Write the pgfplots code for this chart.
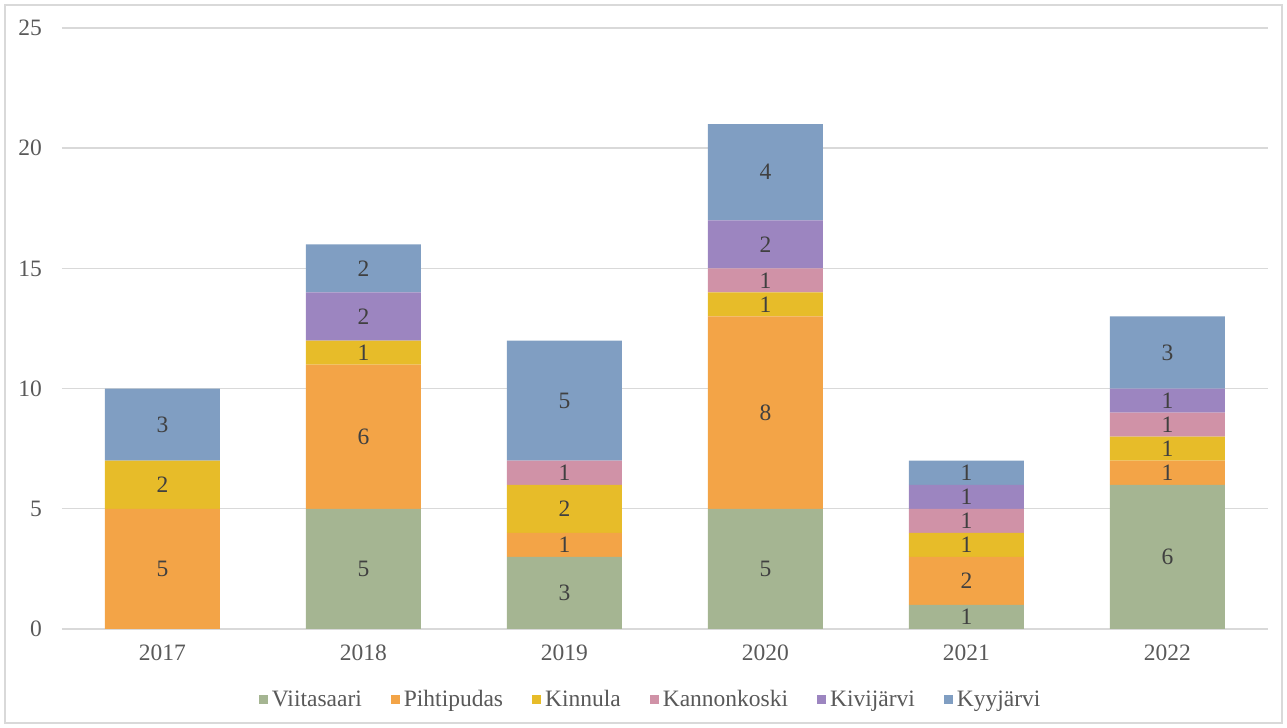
\documentclass[border=0pt]{standalone}
\usepackage{pgfplots}
\pgfplotsset{compat=1.18}
\usepackage{fontspec}
\setmainfont{Liberation Serif}
\definecolor{cV}{HTML}{A5B592}
\definecolor{cP}{HTML}{F3A447}
\definecolor{cK}{HTML}{E7BC29}
\definecolor{cKan}{HTML}{D092A7}
\definecolor{cKiv}{HTML}{9C85C0}
\definecolor{cKyy}{HTML}{809EC2}
\definecolor{gridgray}{HTML}{D9D9D9}
\definecolor{textgray}{HTML}{595959}
\definecolor{labelgray}{HTML}{404040}
\begin{document}
\fontsize{11.75}{14}\selectfont
\begin{tikzpicture}
\path[use as bounding box] (0,0) rectangle (643.5pt,364pt);
\draw[gridgray, line width=1pt] (2.5pt,2.5pt) rectangle (641pt,361.5pt);
\pgfplotsset{common/.style={
  at={(31pt,49.5pt)}, anchor=south west, scale only axis,
  width=603pt, height=300.5pt,
  xmin=-0.5, xmax=5.5, ymin=0, ymax=25}}
\begin{axis}[common,
  ybar stacked, bar width=57.5pt,
  xtick={0,1,2,3,4,5},
  xticklabels={2017,2018,2019,2020,2021,2022},
  ytick={0,5,10,15,20,25},
  ymajorgrids, grid style={gridgray, line width=0.7pt},
  axis line style={draw=none},
  major tick length=0pt,
  tick label style={text=textgray},
  /pgf/number format/assume math mode=true,
  yticklabel style={xshift=-6pt},
  xticklabel style={yshift=-4pt},
  legend style={at={(0.489,0)}, anchor=center, yshift=-35.5pt, draw=none,
    text=textgray, /tikz/every even column/.append style={column sep=12.5pt}},
  legend columns=-1,
  legend image code/.code={\fill[#1] (-1.2pt,-2.25pt) rectangle (3.3pt,2.25pt);},
]
\addplot[fill=cV, draw=none] coordinates {(0,0) (1,5) (2,3) (3,5) (4,1) (5,6)};
\addplot[fill=cP, draw=none] coordinates {(0,5) (1,6) (2,1) (3,8) (4,2) (5,1)};
\addplot[fill=cK, draw=none] coordinates {(0,2) (1,1) (2,2) (3,1) (4,1) (5,1)};
\addplot[fill=cKan, draw=none] coordinates {(0,0) (1,0) (2,1) (3,1) (4,1) (5,1)};
\addplot[fill=cKiv, draw=none] coordinates {(0,0) (1,2) (2,0) (3,2) (4,1) (5,1)};
\addplot[fill=cKyy, draw=none] coordinates {(0,3) (1,2) (2,5) (3,4) (4,1) (5,3)};
\legend{Viitasaari,Pihtipudas,Kinnula,Kannonkoski,Kivijärvi,Kyyjärvi}
\end{axis}
\begin{axis}[common, hide axis]
\addplot[only marks, mark=*, mark size=0pt, mark options={draw=none, fill=none},
  nodes near coords, point meta=explicit symbolic,
  every node near coord/.append style={anchor=center, text=labelgray}]
  table[x=x, y=y, meta=l] {
x y l
0 2.5 5
0 6 2
0 8.5 3
1 2.5 5
1 8 6
1 11.5 1
1 13 2
1 15 2
2 1.5 3
2 3.5 1
2 5 2
2 6.5 1
2 9.5 5
3 2.5 5
3 9 8
3 13.5 1
3 14.5 1
3 16 2
3 19 4
4 0.5 1
4 2 2
4 3.5 1
4 4.5 1
4 5.5 1
4 6.5 1
5 3 6
5 6.5 1
5 7.5 1
5 8.5 1
5 9.5 1
5 11.5 3
};
\end{axis}
\end{tikzpicture}
\end{document}
